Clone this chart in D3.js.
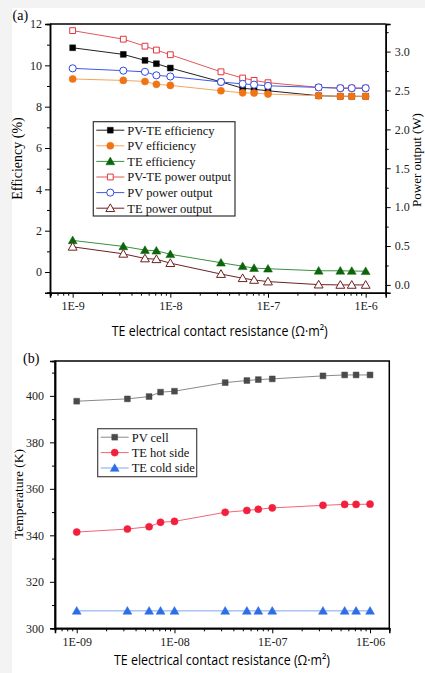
<!DOCTYPE html>
<html>
<head>
<meta charset="utf-8">
<script src="https://cdn.jsdelivr.net/npm/d3@7"></script>
<style>
body { margin: 0; background: #f3f3f3; }
svg { display: block; }
.serif { font-family: "Liberation Serif", "DejaVu Serif", serif; }
.sans { font-family: "Open Sans", "Noto Sans", sans-serif; }
</style>
</head>
<body>
<script>
// values
var resistance = [1e-9, 3.3e-9, 5.5e-9, 7.2e-9, 1e-8, 3.3e-8, 5.5e-8, 7.2e-8, 1e-7, 3.3e-7, 5.5e-7, 7.2e-7, 1e-6];

var pvteEff = [10.85, 10.53, 10.24, 10.08, 9.87, 9.2, 8.89, 8.84, 8.77, 8.53, 8.5, 8.5, 8.5];
var pvEff = [9.34, 9.27, 9.22, 9.08, 9.03, 8.77, 8.67, 8.66, 8.61, 8.53, 8.5, 8.5, 8.5];
var teEff = [1.53, 1.24, 1.06, 1.03, 0.86, 0.45, 0.28, 0.19, 0.16, 0.06, 0.06, 0.05, 0.04];
var pvtePow = [3.27, 3.16, 3.07, 3.02, 2.96, 2.74, 2.66, 2.63, 2.6, 2.54, 2.53, 2.53, 2.53];
var pvPow = [2.785, 2.755, 2.74, 2.695, 2.68, 2.61, 2.585, 2.575, 2.56, 2.54, 2.53, 2.53, 2.53];
var tePow = [0.49, 0.40, 0.34, 0.33, 0.28, 0.14, 0.086, 0.064, 0.043, 0.004, 0.0, 0.0, 0.0];

var pvCellT = [397.7, 398.7, 399.7, 401.6, 402.0, 405.7, 406.6, 407.0, 407.3, 408.6, 409.0, 409.0, 409.0];
var hotSideT = [341.4, 342.7, 343.7, 345.6, 346.0, 349.9, 350.7, 351.2, 351.8, 352.9, 353.3, 353.3, 353.4];
var coldSideT = [307.5, 307.5, 307.5, 307.5, 307.5, 307.5, 307.5, 307.5, 307.5, 307.5, 307.5, 307.5, 307.5];

var effTicks = [0, 2, 4, 6, 8, 10, 12];
var powTicks = [0, 0.5, 1.0, 1.5, 2.0, 2.5, 3.0];
var tempTicks = [300, 320, 340, 360, 380, 400];
var decadeTicks = [1e-9, 1e-8, 1e-7, 1e-6];
var labelsA = ["1E-9", "1E-8", "1E-7", "1E-6"];
var labelsB = ["1E-09", "1E-08", "1E-07", "1E-06"];
var xTitle = "TE electrical contact resistance (\u03A9\u00B7m\u00B2)";

var W = 425, H = 673;
var svg = d3.select("body").append("svg")
	.attr("width", W)
	.attr("height", H);

// white sheet
svg.append("rect")
	.attr("x", 12).attr("y", 8)
	.attr("width", W - 12).attr("height", H - 8)
	.attr("fill", "#fff");

function minorLogTicks(scale){
	var d = scale.domain(), out = [];
	for (var e = -10; e <= -5; e++){
		for (var m = 2; m <= 9; m++){
			var v = m * Math.pow(10, e);
			if (v > d[0] && v < d[1]) out.push(v);
		}
	}
	return out;
}

function drawMarker(g, shape, x, y, color, open){
	var sizes = {square: 34, circle: 40, triangle: 34};
	var types = {square: d3.symbolSquare, circle: d3.symbolCircle, triangle: d3.symbolTriangle};
	g.append("path")
		.attr("d", d3.symbol().type(types[shape]).size(sizes[shape])())
		.attr("transform", "translate(" + x + "," + (shape == "triangle" ? y + 0.8 : y) + ")")
		.attr("fill", open ? "#fff" : color)
		.attr("stroke", color)
		.attr("stroke-width", open ? 1 : 0.5);
}

function drawSeries(g, x, y, vals, s){
	var line = d3.line()
		.x(function(d, i){ return x(resistance[i]); })
		.y(function(d){ return y(d); });
	g.append("path")
		.datum(vals)
		.attr("d", line)
		.attr("fill", "none")
		.attr("stroke", s.line)
		.attr("stroke-width", 1);
	vals.forEach(function(v, i){
		drawMarker(g, s.shape, x(resistance[i]), y(v), s.color, s.open);
	});
}

function drawLegend(g, x0, y0, w, h, items, spacing, border){
	g.append("rect")
		.attr("x", x0).attr("y", y0)
		.attr("width", w).attr("height", h)
		.attr("fill", "#fff")
		.attr("stroke", border)
		.attr("stroke-width", 1.2);
	items.forEach(function(s, i){
		var cy = y0 + 8.5 + i * spacing;
		g.append("line")
			.attr("x1", x0 + 3).attr("x2", x0 + 31)
			.attr("y1", cy).attr("y2", cy)
			.attr("stroke", s.line).attr("stroke-width", 1);
		drawMarker(g, s.shape, x0 + 17, cy, s.color, s.open);
		g.append("text")
			.attr("class", "serif")
			.attr("x", x0 + 34).attr("y", cy + 4.3)
			.attr("font-size", "12.5px")
			.attr("fill", "#111")
			.text(s.name);
	});
}

// ---------- panel (a) ----------
var a = {left: 50, right: 385.7, top: 24, bottom: 292.7};
var xa = d3.scaleLog().domain([Math.pow(10, -9.232), Math.pow(10, -5.795)]).range([a.left, a.right]);
var yEff = d3.scaleLinear().domain([-1, 12]).range([a.bottom, a.top]);
var yPow = d3.scaleLinear().domain([-0.1, 3.355]).range([a.bottom, a.top]);

var ga = svg.append("g");

var seriesA = [
	{name: "PV-TE efficiency", vals: pvteEff, axis: "eff", shape: "square", color: "#000", line: "#222", open: false},
	{name: "PV efficiency", vals: pvEff, axis: "eff", shape: "circle", color: "#f07316", line: "#f5a45e", open: false},
	{name: "TE efficiency", vals: teEff, axis: "eff", shape: "triangle", color: "#0b650b", line: "#3d8f3d", open: false},
	{name: "PV-TE power output", vals: pvtePow, axis: "pow", shape: "square", color: "#e2363a", line: "#e4575a", open: true},
	{name: "PV power output", vals: pvPow, axis: "pow", shape: "circle", color: "#3048e2", line: "#3f58e6", open: true},
	{name: "TE power output", vals: tePow, axis: "pow", shape: "triangle", color: "#6e2121", line: "#6e2121", open: true}
];

seriesA.forEach(function(s){
	drawSeries(ga, xa, s.axis == "eff" ? yEff : yPow, s.vals, s);
});

// frame
ga.append("line").attr("x1", a.left).attr("x2", a.right).attr("y1", a.top).attr("y2", a.top)
	.attr("stroke", "#000").attr("stroke-width", 1.5);

var axA = ga.append("g").attr("transform", "translate(0," + a.bottom + ")")
	.call(d3.axisBottom(xa).tickValues(decadeTicks).tickSize(5).tickPadding(4)
		.tickFormat(function(d, i){ return labelsA[i]; }));
ga.append("g").attr("transform", "translate(0," + a.bottom + ")")
	.call(d3.axisBottom(xa).tickValues(minorLogTicks(xa)).tickSize(3).tickFormat(""));

var ayL = ga.append("g").attr("transform", "translate(" + a.left + ",0)")
	.call(d3.axisLeft(yEff).tickValues(effTicks).tickSize(5).tickPadding(3).tickFormat(d3.format("d")));
ga.append("g").attr("transform", "translate(" + a.left + ",0)")
	.call(d3.axisLeft(yEff).tickValues([-1, 1, 3, 5, 7, 9, 11]).tickSize(3).tickFormat(""));

var ayR = ga.append("g").attr("transform", "translate(" + a.right + ",0)")
	.call(d3.axisRight(yPow).tickValues(powTicks).tickSize(5).tickPadding(4).tickFormat(d3.format(".1f")));
ga.append("g").attr("transform", "translate(" + a.right + ",0)")
	.call(d3.axisRight(yPow).tickValues([0.25, 0.75, 1.25, 1.75, 2.25, 2.75, 3.25]).tickSize(3).tickFormat(""));

drawLegend(ga, 93.3, 121.7, 141.7, 94.3, seriesA, 15.6, "#333");

ga.append("text").attr("class", "serif")
	.attr("transform", "translate(22,158.5) rotate(-90)")
	.attr("text-anchor", "middle").attr("font-size", "14px").text("Efficiency (%)");
ga.append("text").attr("class", "serif")
	.attr("transform", "translate(420.5,160) rotate(-90)")
	.attr("text-anchor", "middle").attr("font-size", "13px").text("Power output (W)");
ga.append("text").attr("class", "sans")
	.attr("x", 219.7).attr("y", 336)
	.attr("text-anchor", "middle").attr("font-size", "14px")
	.attr("textLength", 216).attr("lengthAdjust", "spacingAndGlyphs")
	.text(xTitle);
ga.append("text").attr("class", "serif")
	.attr("x", 12.5).attr("y", 20).attr("font-size", "14px").text("(a)");

// ---------- panel (b) ----------
var b = {left: 55, right: 389.3, top: 361, bottom: 628.3};
var xb = d3.scaleLog().domain([Math.pow(10, -9.222), Math.pow(10, -5.803)]).range([b.left, b.right]);
var yT = d3.scaleLinear().domain([300, 415]).range([b.bottom, b.top]);

var gb = svg.append("g");

var seriesB = [
	{name: "PV cell", vals: pvCellT, shape: "square", color: "#4a4a4a", line: "#8a8a8a", open: false},
	{name: "TE hot side", vals: hotSideT, shape: "circle", color: "#f2203c", line: "#ee6878", open: false},
	{name: "TE cold side", vals: coldSideT, shape: "triangle", color: "#2d6ee6", line: "#7ea7ee", open: false}
];

seriesB.forEach(function(s){
	drawSeries(gb, xb, yT, s.vals, s);
});

gb.append("rect").attr("x", b.left).attr("y", b.top)
	.attr("width", b.right - b.left).attr("height", b.bottom - b.top)
	.attr("fill", "none").attr("stroke", "#000").attr("stroke-width", 1.5);

var axB = gb.append("g").attr("transform", "translate(0," + b.bottom + ")")
	.call(d3.axisBottom(xb).tickValues(decadeTicks).tickSize(5).tickPadding(4)
		.tickFormat(function(d, i){ return labelsB[i]; }));
gb.append("g").attr("transform", "translate(0," + b.bottom + ")")
	.call(d3.axisBottom(xb).tickValues(minorLogTicks(xb)).tickSize(3).tickFormat(""));

var ayB = gb.append("g").attr("transform", "translate(" + b.left + ",0)")
	.call(d3.axisLeft(yT).tickValues(tempTicks).tickSize(5).tickPadding(6).tickFormat(d3.format("d")));
gb.append("g").attr("transform", "translate(" + b.left + ",0)")
	.call(d3.axisLeft(yT).tickValues([310, 330, 350, 370, 390, 410]).tickSize(3).tickFormat(""));

drawLegend(gb, 97.7, 428.7, 99, 48, seriesB, 15.4, "#444");

gb.append("text").attr("class", "serif")
	.attr("transform", "translate(23,494) rotate(-90)")
	.attr("text-anchor", "middle").attr("font-size", "13.5px").text("Temperature (K)");
gb.append("text").attr("class", "sans")
	.attr("x", 222).attr("y", 665)
	.attr("text-anchor", "middle").attr("font-size", "14px")
	.attr("textLength", 216).attr("lengthAdjust", "spacingAndGlyphs")
	.text(xTitle);
gb.append("text").attr("class", "serif")
	.attr("x", 23).attr("y", 363).attr("font-size", "14px").text("(b)");

// axis styling
svg.selectAll(".domain").attr("stroke", "#000").attr("stroke-width", 1.5);
svg.selectAll(".tick line").attr("stroke", "#000").attr("stroke-width", 1);
svg.selectAll(".tick text")
	.attr("font-family", "Liberation Serif, DejaVu Serif, serif")
	.attr("font-size", "12px")
	.attr("fill", "#222");
</script>
</body>
</html>
